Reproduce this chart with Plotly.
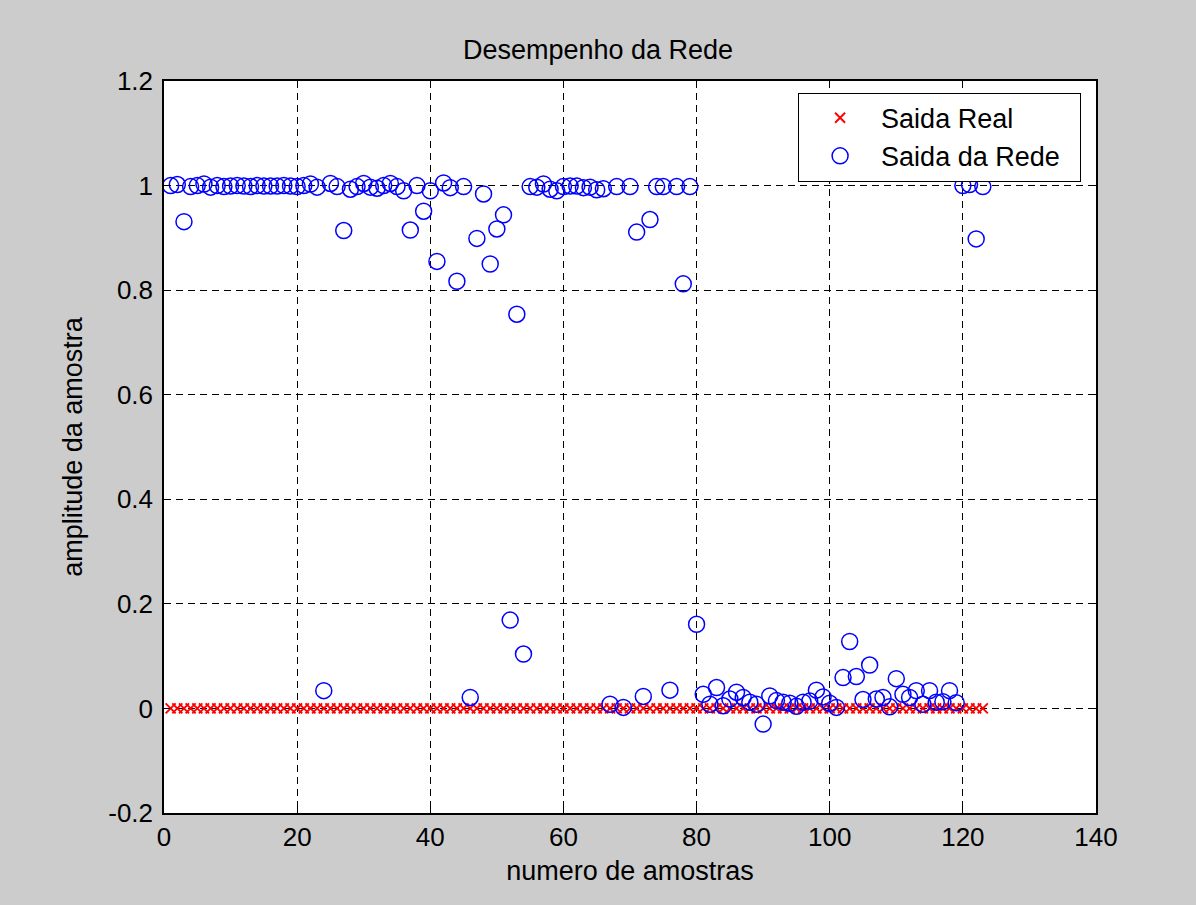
import plotly.graph_objects as go

# sample index (numero de amostras)
amostras = list(range(1, 124))

# target output (Saida Real)
saida_real = [
    0, 0, 0, 0, 0, 0, 0, 0, 0, 0, 0, 0, 0, 0, 0, 0, 0, 0, 0, 0,
    0, 0, 0, 0, 0, 0, 0, 0, 0, 0, 0, 0, 0, 0, 0, 0, 0, 0, 0, 0,
    0, 0, 0, 0, 0, 0, 0, 0, 0, 0, 0, 0, 0, 0, 0, 0, 0, 0, 0, 0,
    0, 0, 0, 0, 0, 0, 0, 0, 0, 0, 0, 0, 0, 0, 0, 0, 0, 0, 0, 0,
    0, 0, 0, 0, 0, 0, 0, 0, 0, 0, 0, 0, 0, 0, 0, 0, 0, 0, 0, 0,
    0, 0, 0, 0, 0, 0, 0, 0, 0, 0, 0, 0, 0, 0, 0, 0, 0, 0, 0, 0,
    0, 0, 0,
]

# network output (Saida da Rede)
saida_rede = [
    1.000, 1.002, 0.931, 0.998, 1.000, 1.003, 0.997, 1.000, 0.998, 0.999,
    1.000, 0.999, 0.998, 1.000, 0.999, 0.999, 0.999, 1.000, 0.999, 0.998,
    1.000, 1.003, 0.997, 0.034, 1.004, 0.998, 0.914, 0.993, 0.998, 1.004,
    0.997, 0.995, 1.000, 1.004, 0.998, 0.990, 0.915, 1.000, 0.951, 0.990,
    0.855, 1.005, 0.996, 0.817, 0.998, 0.021, 0.899, 0.984, 0.850, 0.917,
    0.944, 0.169, 0.754, 0.104, 0.998, 0.997, 1.003, 0.993, 0.990, 0.998,
    0.999, 0.999, 0.996, 0.997, 0.992, 0.994, 0.008, 0.998, 0.002, 0.998,
    0.911, 0.023, 0.935, 0.998, 0.998, 0.035, 0.998, 0.812, 0.998, 0.161,
    0.027, 0.008, 0.040, 0.005, 0.018, 0.031, 0.021, 0.012, 0.008, -0.030,
    0.024, 0.015, 0.012, 0.010, 0.004, 0.012, 0.014, 0.035, 0.022, 0.010,
    0.002, 0.059, 0.128, 0.061, 0.017, 0.083, 0.018, 0.021, 0.003, 0.057,
    0.027, 0.021, 0.034, 0.008, 0.034, 0.012, 0.013, 0.034, 0.011, 1.000,
    1.002, 0.898, 0.998,
]

x_ticks = [0, 20, 40, 60, 80, 100, 120, 140]
y_ticks = [-0.2, 0, 0.2, 0.4, 0.6, 0.8, 1.0, 1.2]
y_tick_labels = ["-0.2", "0", "0.2", "0.4", "0.6", "0.8", "1", "1.2"]

FONT = "Liberation Sans"
PAD = "\u00a0\u00a0"  # right padding inside the legend box

fig = go.Figure()
fig.add_trace(go.Scatter(
    x=amostras, y=saida_real, mode="markers", name="Saida Real",
    marker=dict(symbol="x-thin-open", size=10, color="#ff0000",
                line=dict(color="#ff0000", width=1.9)),
))
fig.add_trace(go.Scatter(
    x=amostras, y=saida_rede, mode="markers", name="Saida da Rede" + PAD,
    marker=dict(symbol="circle-open", size=16, color="#0000ff",
                line=dict(color="#0000ff", width=1.5)),
))

axis_common = dict(
    showline=True, linecolor="black", linewidth=1.5, mirror="ticks",
    ticks="inside", ticklen=6, tickwidth=1, tickcolor="black",
    showgrid=True, gridcolor="black", gridwidth=1, griddash="7px,5px",
    zeroline=False,
    tickfont=dict(family=FONT, size=26, color="black"),
)

fig.update_layout(
    width=1196, height=905,
    margin=dict(l=164, r=100, t=81, b=92),
    paper_bgcolor="#cccccc", plot_bgcolor="white",
    font=dict(family=FONT, size=26, color="black"),
    title=dict(text="Desempenho da Rede", x=0.5, xanchor="center",
               y=0.945, yanchor="middle",
               font=dict(family=FONT, size=27, color="black")),
    xaxis=dict(range=[0, 140], tickvals=x_ticks,
               title=dict(text="numero de amostras", standoff=10,
                          font=dict(family=FONT, size=27)),
               **axis_common),
    yaxis=dict(range=[-0.2, 1.2], tickvals=y_ticks, ticktext=y_tick_labels,
               ticklabelstandoff=4,
               title=dict(text="amplitude da amostra", standoff=18,
                          font=dict(family=FONT, size=27)),
               **axis_common),
    legend=dict(x=0.984, y=0.984, xanchor="right", yanchor="top",
                bgcolor="white", bordercolor="black", borderwidth=1,
                font=dict(family=FONT, size=27, color="black"),
                itemwidth=72),
    showlegend=True,
)

fig.write_html("out.html")
